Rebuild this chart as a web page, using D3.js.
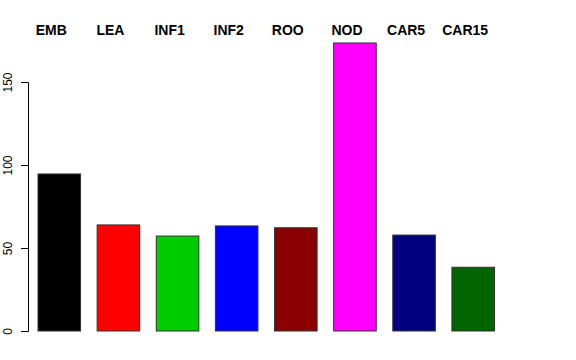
<!DOCTYPE html>
<html>
<head>
<meta charset="utf-8">
<script src="https://cdn.jsdelivr.net/npm/d3@7"></script>
<style>
  body { margin: 0; background: #fff; }
  svg { display: block; font-family: "Liberation Sans", Arial, sans-serif; }
</style>
</head>
<body>
<svg id="chart"></svg>
<script>
'use strict';

var categories = ['EMB', 'LEA', 'INF1', 'INF2', 'ROO', 'NOD', 'CAR5', 'CAR15'];
var values = [94.6, 63.9, 57.2, 63.3, 62.2, 173.5, 57.8, 38.4];
var colors = ['#000000', '#ff0000', '#00cd00', '#0000ff', '#8b0000', '#ff00ff', '#000080', '#006400'];
var yTicks = [0, 50, 100, 150];

var width = 576;
var height = 360;

var svg = d3.select('#chart')
  .attr('width', width)
  .attr('height', height);

var x = d3.scaleBand()
  .domain(categories)
  .range([38, 494.5])
  .paddingInner(0.28)
  .paddingOuter(0);

var y = d3.scaleLinear()
  .domain([0, 150])
  .range([331, 82]);

// bars
svg.selectAll('rect.bar')
  .data(categories)
  .enter().append('rect')
  .attr('class', 'bar')
  .attr('x', function(d) { return x(d); })
  .attr('width', x.bandwidth())
  .attr('y', function(d, i) { return y(values[i]); })
  .attr('height', function(d, i) { return y(0) - y(values[i]); })
  .attr('fill', function(d, i) { return colors[i]; })
  .attr('stroke', '#333')
  .attr('stroke-width', 1);

// y axis, R style
var axis = svg.append('g')
  .attr('transform', 'translate(28,0)')
  .call(d3.axisLeft(y).tickValues(yTicks).tickSize(7).tickPadding(9));

axis.select('.domain').attr('stroke', '#000');
axis.selectAll('.tick line').attr('stroke', '#000');
axis.selectAll('.tick text')
  .attr('fill', '#000')
  .style('font-size', '12px')
  .attr('transform', 'rotate(-90)')
  .attr('x', 0)
  .attr('y', -16)
  .attr('dy', 0)
  .attr('text-anchor', 'middle');

// category labels across the top
svg.selectAll('text.cat')
  .data(categories)
  .enter().append('text')
  .attr('class', 'cat')
  .attr('x', function(d) { return x(d) + x.bandwidth() / 2 - 8; })
  .attr('y', 35)
  .attr('text-anchor', 'middle')
  .style('font-size', '14px')
  .style('font-weight', 'bold')
  .text(function(d) { return d; });
</script>
</body>
</html>
